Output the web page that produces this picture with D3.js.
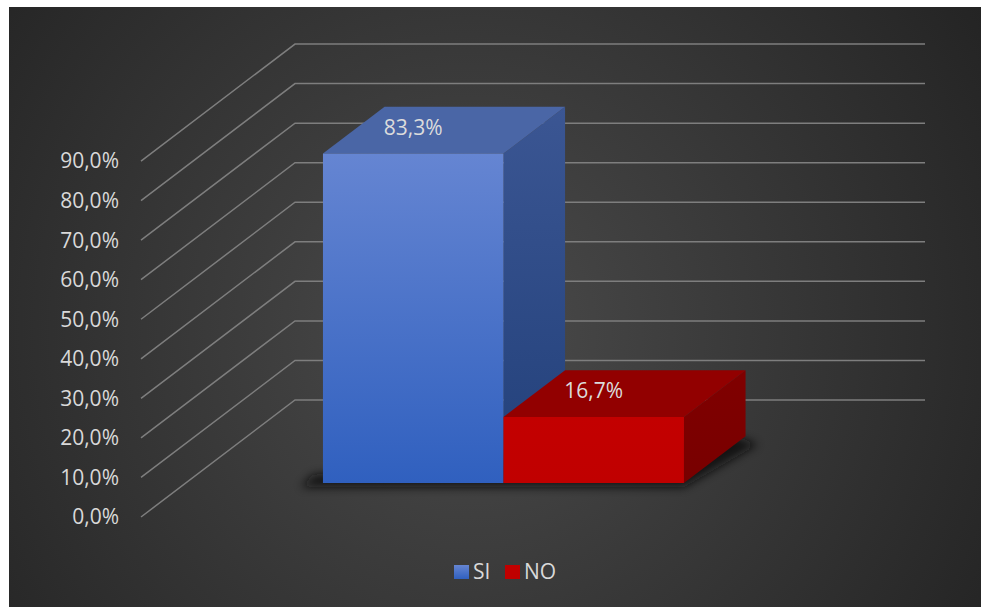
<!DOCTYPE html>
<html>
<head>
<meta charset="utf-8">
<script src="https://cdn.jsdelivr.net/npm/d3@7"></script>
<style>
  html, body { margin: 0; padding: 0; background: #ffffff; }
  svg { display: block; }
  text { font-family: "Open Sans", "Noto Sans", sans-serif; }
</style>
</head>
<body>
<svg id="chart" width="981" height="607"></svg>
<script>
// Series shown as adjacent 3D columns
const series = ["SI", "NO"];
const values = [83.3, 16.7];
const valueLabels = ["83,3%", "16,7%"];
const tickValues = [0, 10, 20, 30, 40, 50, 60, 70, 80, 90];
const tickLabels = ["0,0%", "10,0%", "20,0%", "30,0%", "40,0%", "50,0%", "60,0%", "70,0%", "80,0%", "90,0%"];

const svg = d3.select("#chart");
const W = 981, H = 607;
const FONT = 21;

// Oblique 3D projection: plane x, value, depth (0 = front, 1 = back wall)
const origin = { x: 141, y: 517 };
const depthVec = { x: 154, y: -117 };
const xPlane = d3.scaleLinear().domain([0, 1]).range([0, 630]);
const yVal = d3.scaleLinear().domain([0, 100]).range([0, 395.5]);
const band = d3.scaleBand().domain(series).range([137.3, 498.3]).padding(0);
const barDepth = [0.29, 0.69];

function P(px, v, d) {
  return [origin.x + px + d * depthVec.x, origin.y - yVal(v) + d * depthVec.y];
}

const defs = svg.append("defs");

// Background radial gradient
const bg = defs.append("radialGradient").attr("id", "bgGrad")
  .attr("gradientUnits", "userSpaceOnUse")
  .attr("cx", 470).attr("cy", 330).attr("r", 620);
bg.append("stop").attr("offset", "0%").attr("stop-color", "#4b4b4b");
bg.append("stop").attr("offset", "100%").attr("stop-color", "#232323");

function linGrad(id, c1, c2) {
  const g = defs.append("linearGradient").attr("id", id)
    .attr("x1", 0).attr("y1", 0).attr("x2", 0).attr("y2", 1);
  g.append("stop").attr("offset", "0%").attr("stop-color", c1);
  g.append("stop").attr("offset", "100%").attr("stop-color", c2);
}
linGrad("siFront", "#6585d2", "#3060bf");
linGrad("siSide", "#3b5693", "#22407a");
linGrad("noFront", "#c30000", "#c00000");
linGrad("noSide", "#800000", "#780000");

const faceStyle = {
  SI: { front: "url(#siFront)", top: "#4a66a6", side: "url(#siSide)" },
  NO: { front: "url(#noFront)", top: "#920000", side: "url(#noSide)" }
};

const blur = defs.append("filter").attr("id", "shadowBlur")
  .attr("x", "-20%").attr("y", "-50%").attr("width", "140%").attr("height", "200%");
blur.append("feGaussianBlur").attr("stdDeviation", 5);

svg.append("rect").attr("x", 9).attr("y", 7).attr("width", W - 9).attr("height", H - 7)
  .attr("fill", "url(#bgGrad)");

// Gridlines: side wall diagonal then back wall horizontal
const grid = svg.append("g").attr("fill", "none").attr("stroke", "#7e7e7e").attr("stroke-width", 1.5);
tickValues.forEach(v => {
  const a = P(0, v, 0), b = P(0, v, 1), c = P(xPlane(1), v, 1);
  grid.append("path").attr("d", d3.line()([a, b, c]));
});

// Tick labels
svg.append("g").selectAll("text").data(tickValues).join("text")
  .attr("x", 119)
  .attr("y", v => P(0, v, 0)[1])
  .attr("dy", "0.35em")
  .attr("text-anchor", "end")
  .attr("fill", "#d9d9d9")
  .attr("font-size", FONT)
  .text((v, i) => tickLabels[i]);

// Soft shadow under the columns
const x0 = band(series[0]);
const x1 = band(series[series.length - 1]) + band.bandwidth();
const sA = P(x0, 0, barDepth[0]), sB = P(x1, 0, barDepth[0]), sC = P(x1, 0, barDepth[1]);
svg.append("path")
  .attr("d", d3.line()([[sA[0] - 22, sA[1] + 4], [sB[0], sB[1] + 4], [sC[0] + 12, sC[1] + 8], [sC[0] - 10, sC[1]], [sA[0] - 10, sA[1] - 8]]) + "Z")
  .attr("fill", "#111")
  .attr("opacity", 0.85)
  .attr("filter", "url(#shadowBlur)");

// Columns
const bars = svg.append("g");
series.forEach((s, i) => {
  const v = values[i];
  const l = band(s), r = l + band.bandwidth();
  const [d0, d1] = barDepth;
  const g = bars.append("g");
  const st = faceStyle[s];
  // right side face
  g.append("path").attr("fill", st.side)
    .attr("d", d3.line()([P(r, 0, d0), P(r, v, d0), P(r, v, d1), P(r, 0, d1)]) + "Z");
  // top face
  g.append("path").attr("fill", st.top)
    .attr("d", d3.line()([P(l, v, d0), P(r, v, d0), P(r, v, d1), P(l, v, d1)]) + "Z");
  // front face
  g.append("path").attr("fill", st.front)
    .attr("d", d3.line()([P(l, 0, d0), P(r, 0, d0), P(r, v, d0), P(l, v, d0)]) + "Z");
  // value label above the front edge
  const ft = P((l + r) / 2, v, d0);
  g.append("text")
    .attr("x", ft[0]).attr("y", ft[1] - 26)
    .attr("dy", "0.35em")
    .attr("text-anchor", "middle")
    .attr("fill", "#dcdcdc")
    .attr("font-size", FONT)
    .text(valueLabels[i]);
});

// Legend
const legend = svg.append("g");
const legendItems = [{ s: "SI", x: 454, fill: "url(#siFront)" }, { s: "NO", x: 505, fill: "#c00000" }];
legendItems.forEach(it => {
  legend.append("rect").attr("x", it.x).attr("y", 565).attr("width", 15).attr("height", 14)
    .attr("fill", it.fill);
  legend.append("text").attr("x", it.x + 19).attr("y", 572).attr("dy", "0.35em")
    .attr("fill", "#d9d9d9").attr("font-size", FONT).text(it.s);
});
</script>
</body>
</html>
